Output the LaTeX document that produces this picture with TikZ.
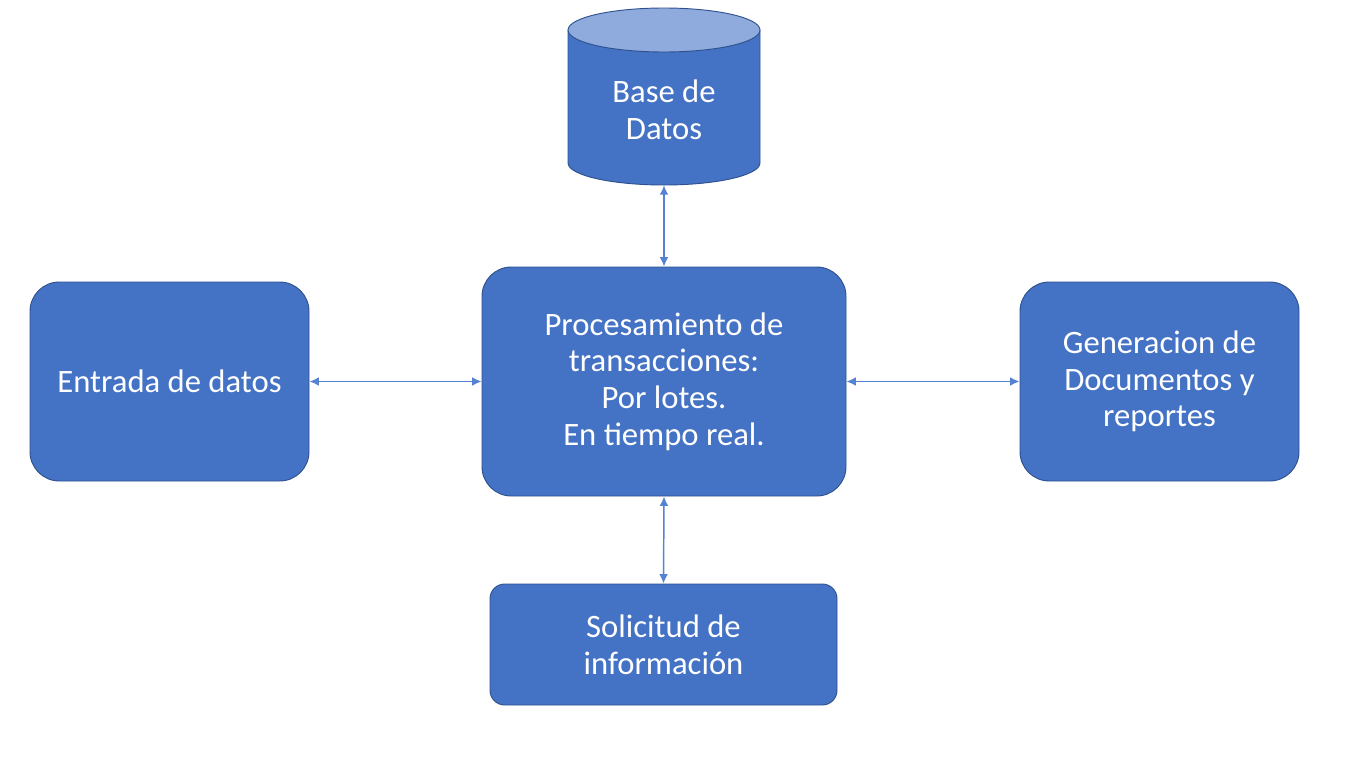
\documentclass[tikz,border=0pt]{standalone}
\usepackage{fontspec}
\setmainfont{Carlito}
\usetikzlibrary{arrows.meta}
\definecolor{boxfill}{HTML}{4472C4}
\definecolor{boxline}{HTML}{2F528F}
\definecolor{topfill}{HTML}{8FAADC}
\definecolor{arrowc}{HTML}{5583D2}
\begin{document}
\begin{tikzpicture}[x=0.75pt,y=-0.75pt,
  box/.style={draw=boxline,line width=0.7pt,fill=boxfill,text=white,align=center,
    font=\fontsize{24.5}{27.5}\selectfont,rounded corners=22pt,inner sep=0pt},
  link/.style={draw=arrowc,line width=1.1pt,{Latex[length=7pt,width=6.5pt]}-{Latex[length=7pt,width=6.5pt]}}]
\useasboundingbox (0,0) rectangle (1366,768);
% database cylinder
\fill[boxfill] (568,30) -- (568,163) arc[start angle=180,end angle=0,x radius=96,y radius=22] -- (760,30) -- cycle;
\draw[boxline,line width=0.7pt] (568,30) -- (568,163) arc[start angle=180,end angle=0,x radius=96,y radius=22] -- (760,30);
\draw[boxline,line width=0.7pt,fill=topfill] (664,30) ellipse[x radius=96,y radius=22];
\node[inner sep=0pt,minimum width=192*0.75pt,minimum height=177*0.75pt] (db) at (664,96.5) {};
\node[text=white,align=center,font=\fontsize{24.5}{27.5}\selectfont] (dbtxt) at (664,110) {Base de\\Datos};
% boxes
\node[box,minimum width=364*0.75pt,minimum height=229*0.75pt] (proc) at (664,381.5)
  {Procesamiento de\\transacciones:\\Por lotes.\\En tiempo real.};
\node[box,minimum width=279*0.75pt,minimum height=199*0.75pt] (in) at (169.5,381.5) {Entrada de datos};
\node[box,minimum width=279*0.75pt,minimum height=199*0.75pt] (gen) at (1159.5,381.5)
  {Generacion de\\Documentos y\\reportes};
\node[box,rounded corners=11pt,minimum width=347*0.75pt,minimum height=121*0.75pt] (sol) at (663.5,644.5)
  {Solicitud de\\información};
% links
\draw[link] (in.east) -- (proc.west);
\draw[link] (proc.east) -- (gen.west);
\draw[link] (db.south) -- (proc.north);
\draw[link] (proc.south) -- (sol.north);
\end{tikzpicture}
\end{document}
